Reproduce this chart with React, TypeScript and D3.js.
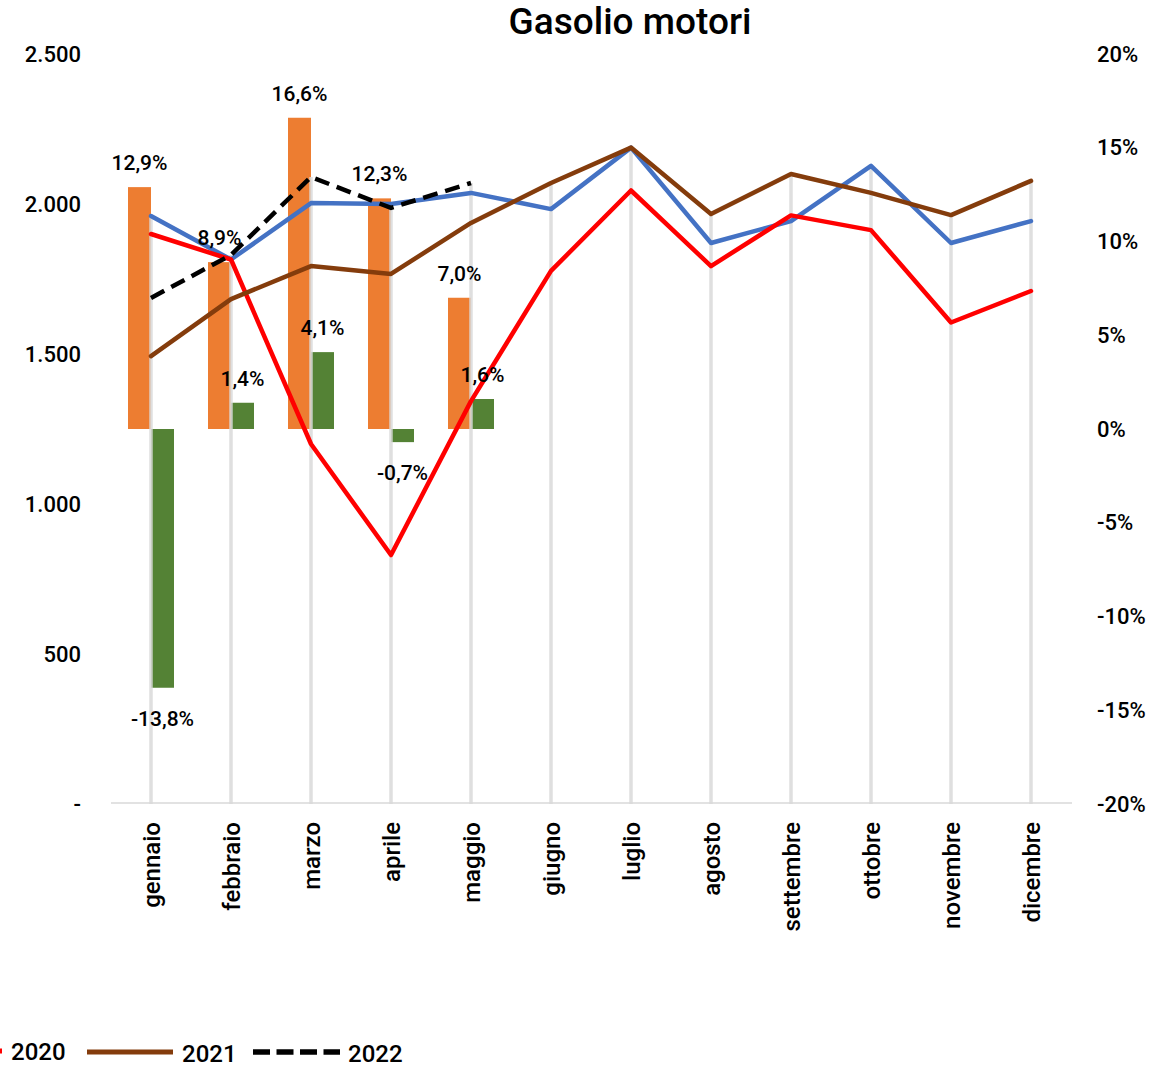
import React from "react";
import * as d3 from "d3";

const months = ["gennaio","febbraio","marzo","aprile","maggio","giugno","luglio","agosto","settembre","ottobre","novembre","dicembre"];
const s2019 = [1960,1815,2003,2000,2037,1983,2188,1870,1943,2127,1870,1943];
const s2020 = [1900,1815,1200,830,1343,1777,2045,1793,1962,1913,1605,1710];
const s2021 = [1493,1683,1793,1767,1937,2070,2188,1967,2100,2037,1963,2077];
const s2022 = [1687,1830,2090,1987,2070];
const varVs2021 = [12.9,8.9,16.6,12.3,7.0];
const varVs2019 = [-13.8,1.4,4.1,-0.7,1.6];
const leftTicks = [0,500,1000,1500,2000,2500];
const rightTicks = [-20,-15,-10,-5,0,5,10,15,20];

const W = 1171, H = 1068;
const FONT = "Roboto, 'DejaVu Sans', sans-serif";

export default function App() {
  const x = d3.scaleBand<string>().domain(months).range([111, 1071]);
  const yL = d3.scaleLinear().domain([0, 2500]).range([804, 54]);
  const yR = d3.scaleLinear().domain([-20, 20]).range([804, 54]);
  const cx = (m: string) => (x(m) as number) + x.bandwidth() / 2;
  const barW = 23;
  const line = d3.line<number>().x((_, i) => cx(months[i])).y((v) => yL(v));
  const fmtL = (v: number) => (v === 0 ? "-" : d3.format(",")(v).replace(/,/g, "."));
  const fmtPct = (v: number) => v.toFixed(1).replace(".", ",") + "%";
  const maxes = months.map((_, i) => d3.max([s2019[i], s2020[i], s2021[i], s2022[i] ?? -Infinity]) as number);

  return (
    <div style={{ position: "absolute", left: 0, top: 0 }}>
      <svg width={W} height={H} style={{ display: "block", background: "#fff" }} fontFamily={FONT}>
        <text x={630} y={34} textAnchor="middle" fontSize={37} fontWeight={500} fill="#000">Gasolio motori</text>

        {leftTicks.map((t) => (
          <text key={"l" + t} x={81} y={yL(t)} dy="0.35em" textAnchor="end" fontSize={22} fontWeight={500} fill="#000">{fmtL(t)}</text>
        ))}
        {rightTicks.map((t) => (
          <text key={"r" + t} x={1097} y={yR(t)} dy="0.35em" textAnchor="start" fontSize={22} fontWeight={500} fill="#000">{t + "%"}</text>
        ))}

        {varVs2021.map((v, i) => {
          const c = cx(months[i]);
          return <rect key={"o" + i} x={c - barW} width={barW} y={Math.min(yR(v), yR(0))} height={Math.abs(yR(v) - yR(0))} fill="#ED7D31" />;
        })}
        {varVs2019.map((v, i) => {
          const c = cx(months[i]);
          return <rect key={"g" + i} x={c} width={barW} y={Math.min(yR(v), yR(0))} height={Math.abs(yR(v) - yR(0))} fill="#548235" />;
        })}

        {months.map((m, i) => (
          <line key={"d" + m} x1={cx(m)} x2={cx(m)} y1={yL(maxes[i])} y2={yL(0)} stroke="#d9d9d9" strokeWidth={3.5} strokeOpacity={0.85} />
        ))}
        <line x1={111} x2={1072} y1={yL(0) - 1} y2={yL(0) - 1} stroke="#d9d9d9" strokeWidth={1.5} />

        <path d={line(s2019) as string} fill="none" stroke="#4472C4" strokeWidth={4.5} strokeLinejoin="round" strokeLinecap="round" />
        <path d={line(s2020) as string} fill="none" stroke="#FF0000" strokeWidth={4.5} strokeLinejoin="round" strokeLinecap="round" />
        <path d={line(s2021) as string} fill="none" stroke="#843C0C" strokeWidth={4.5} strokeLinejoin="round" strokeLinecap="round" />
        <path d={line(s2022) as string} fill="none" stroke="#000" strokeWidth={4.5} strokeDasharray="15 8" strokeLinejoin="round" />

        {varVs2021.map((v, i) => {
          const c = cx(months[i]) - barW / 2;
          return <text key={"ol" + i} x={c} y={yR(v) - 17} textAnchor="middle" fontSize={21} fontWeight={500} fill="#000">{fmtPct(v)}</text>;
        })}
        {varVs2019.map((v, i) => {
          const c = cx(months[i]) + barW / 2;
          const yy = v >= 0 ? yR(v) - 17 : yR(v) + 38;
          return <text key={"gl" + i} x={c} y={yy} textAnchor="middle" fontSize={21} fontWeight={500} fill="#000">{fmtPct(v)}</text>;
        })}

        {months.map((m) => (
          <text key={"x" + m} transform={`translate(${cx(m) + 9},822) rotate(-90)`} textAnchor="end" fontSize={24} fontWeight={500} fill="#000">{m}</text>
        ))}

        <g fontSize={24} fontWeight={500}>
          <line x1={-84} x2={2} y1={1051} y2={1051} stroke="#FF0000" strokeWidth={5} />
          <text x={11} y={1060} fill="#000">2020</text>
          <line x1={87} x2={173} y1={1052} y2={1052} stroke="#843C0C" strokeWidth={5} />
          <text x={182} y={1062} fill="#000">2021</text>
          <line x1={253} x2={340} y1={1052} y2={1052} stroke="#000" strokeWidth={5.5} strokeDasharray="17 6.5" />
          <text x={348} y={1062} fill="#000">2022</text>
        </g>
      </svg>
    </div>
  );
}
